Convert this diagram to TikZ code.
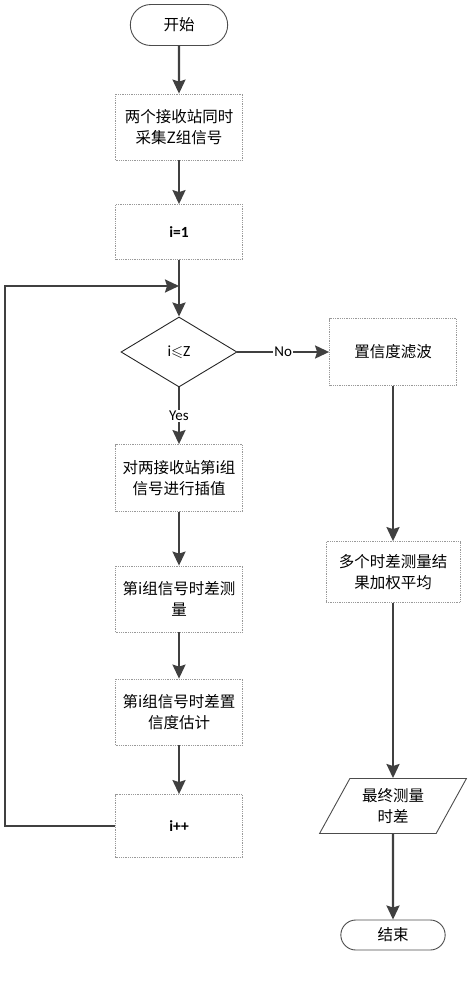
\documentclass[tikz,border=0pt]{standalone}
\usepackage{fontspec}
\usepackage{amssymb}
\setmainfont{Carlito}
\newfontfamily\cjk{Noto Sans CJK SC}
\usetikzlibrary{shapes.geometric, shapes.misc, arrows.meta}

\begin{document}
\begin{tikzpicture}[x=1pt, y=-1pt,
  line/.style={line width=2.2pt, draw=black!75},
  arr/.style={line, -{Stealth[length=14pt, width=13pt, inset=2pt]}},
  proc/.style={draw=black!40, densely dotted, line width=0.8pt, minimum width=127pt, minimum height=66pt,
    align=center, inner sep=2pt, font=\cjk\fontsize{15.5}{21}\selectfont},
  term/.style={rounded rectangle, draw=black!70, line width=0.9pt, minimum width=104pt, minimum height=41pt,
    font=\cjk\fontsize{15.5}{21}\selectfont},
  lab/.style={fill=white, inner sep=1pt, font=\fontsize{15}{18}\selectfont}]
  \useasboundingbox (0,0) rectangle (470,1000); %全体
  % 左の列
  \node[term] (start) at (179,25) {开始}; %开始
  \node[proc] (acq) at (179,127) {两个接收站同时\\采集Z组信号}; %采集
  \node[proc, minimum height=55pt, font=\bfseries\fontsize{15.5}{18}\selectfont] (init) at (179,232) {i=1}; %i=1
  \node[diamond, draw=black!85, line width=0.9pt, inner sep=0pt, minimum width=116pt, minimum height=70pt,
    font=\fontsize{15.5}{18}\selectfont] (cond) at (179,352) {i$\leqslant$Z}; %判断
  \node[proc, minimum height=67pt] (interp) at (179,478) {对两接收站第i组\\信号进行插值}; %插值
  \node[proc] (meas) at (179,599) {第i组信号时差测\\量}; %测量
  \node[proc] (conf) at (179,712) {第i组信号时差置\\信度估计}; %置信度
  \node[proc, minimum height=63pt, font=\bfseries\fontsize{15.5}{18}\selectfont] (inc) at (179,826) {i++}; %i++
  % 右の列
  \node[proc, minimum height=67pt] (filt) at (393,352) {置信度滤波}; %滤波
  \node[proc, minimum width=134pt, minimum height=61pt] (avg) at (393,572) {多个时差测量结\\果加权平均}; %加权平均
  \node[trapezium, trapezium left angle=60, trapezium right angle=120, trapezium stretches=true,
    draw=black!70, line width=0.9pt, minimum width=147pt, minimum height=55pt, align=center,
    font=\cjk\fontsize{15.5}{21}\selectfont] (out) at (393,806) {最终测量\\时差}; %输出
  \node[term, minimum width=111pt, minimum height=30pt] (stop) at (393,935) {结束}; %结束
  % 矢印
  \coordinate (loopL) at (5,286); %戻り線の左端
  \coordinate (loopin) at (179,286); %戻り線の合流点
  \draw[arr] (start) -- (acq);
  \draw[arr] (acq) -- (init);
  \draw[arr] (init) -- (cond);
  \draw[arr] (cond) -- node[lab] {Yes} (interp);
  \draw[arr] (cond) -- node[lab] {No} (filt);
  \draw[arr] (interp) -- (meas);
  \draw[arr] (meas) -- (conf);
  \draw[arr] (conf) -- (inc);
  \draw[arr] (inc.west) -| (loopL) -- (loopin);
  \draw[arr] (filt) -- (avg);
  \draw[arr] (avg) -- (out);
  \draw[arr] (out) -- (stop);
\end{tikzpicture}
\end{document}
